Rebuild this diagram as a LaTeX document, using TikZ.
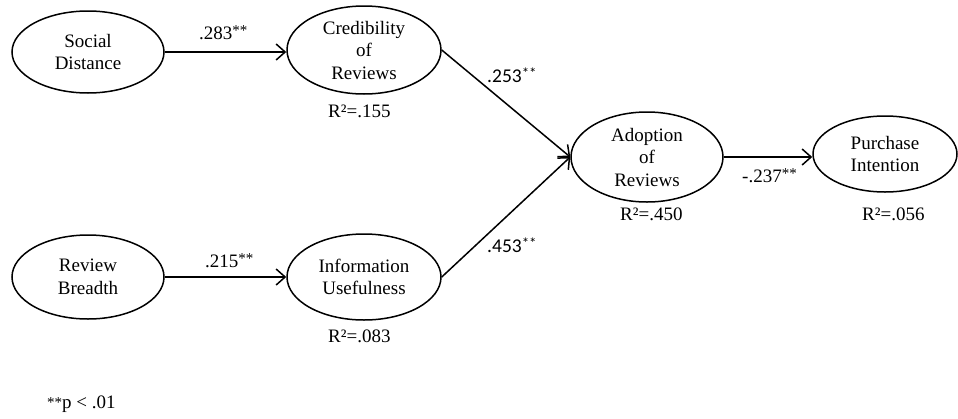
\documentclass[tikz,border=0pt]{standalone}
\usepackage{fontspec}
\setmainfont{Liberation Serif}
\newfontfamily\calib{Carlito}
\usetikzlibrary{shapes.geometric,arrows.meta}
\newcommand{\sst}{\raisebox{0.35ex}{\fontsize{15}{15}\selectfont **}}
\begin{document}
\begin{tikzpicture}[x=1pt,y=-1pt,
  every node/.style={font=\fontsize{19}{22.5}\selectfont},
  latent/.style={draw,ellipse,line width=1.5pt,inner sep=0pt,align=center},
  path/.style={line width=1.5pt,-{Straight Barb[length=9pt,width=16pt,line width=1.5pt]}},
  lab/.style={anchor=base west,inner sep=0pt}]
\useasboundingbox (0,0) rectangle (958,418);
\node[latent,minimum width=152pt,minimum height=82pt] (sd) at (88,52) {Social\\Distance};
\node[latent,minimum width=154pt,minimum height=88pt] (cr) at (364,50) {Credibility\\of\\Reviews};
\node[latent,minimum width=152pt,minimum height=84pt] (rb) at (88,277) {Review\\Breadth};
\node[latent,minimum width=154pt,minimum height=86pt] (iu) at (364,277) {Information\\Usefulness};
\node[latent,minimum width=152pt,minimum height=90pt] (ad) at (647,157) {Adoption\\of\\Reviews};
\node[latent,minimum width=144pt,minimum height=76pt] (pi) at (885,154) {Purchase\\Intention};
\draw[path] (sd.east) -- (sd.east -| cr.west);
\draw[path] (rb.east) -- (rb.east -| iu.west);
\draw[path] (cr.east) -- (ad.west);
\draw[path] (iu.east) -- (ad.west);
\draw[path] (ad.east) -- (ad.east -| pi.west);
\node[lab] (l1) at (199,39) {.283\sst};
\node[lab] (l2) at (205,267) {.215\sst};
\node[lab,font=\calib\fontsize{19.5}{22}\selectfont] (l3) at (487,82) {.253\sst};
\node[lab,font=\calib\fontsize{19.5}{22}\selectfont] (l4) at (487,252) {.453\sst};
\node[lab] (l5) at (742,182) {-.237\sst};
\node[lab] (r1) at (328,117) {R²=.155};
\node[lab] (r2) at (328,342) {R²=.083};
\node[lab] (r3) at (620,220) {R²=.450};
\node[lab] (r4) at (862,220) {R²=.056};
\node[lab] (note) at (47,408) {\raisebox{0.1ex}{\fontsize{15}{15}\selectfont **}p < .01};
\end{tikzpicture}
\end{document}
